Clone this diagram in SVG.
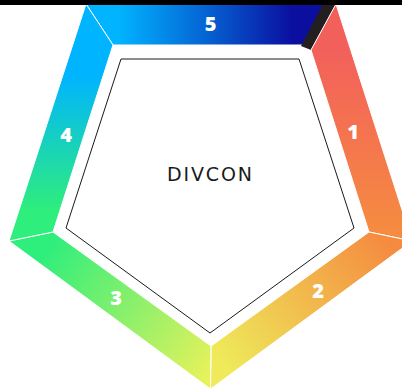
<svg xmlns="http://www.w3.org/2000/svg" width="402" height="389" viewBox="0 0 402 389">
<defs>
<linearGradient id="g5" gradientUnits="userSpaceOnUse" x1="118" y1="0" x2="292" y2="0">
<stop offset="0" stop-color="#00B4FF"/>
<stop offset="0.5" stop-color="#0564D4"/>
<stop offset="1" stop-color="#0A0FA0"/>
</linearGradient>
<linearGradient id="g1" gradientUnits="userSpaceOnUse" x1="0" y1="50" x2="0" y2="235">
<stop offset="0" stop-color="#F2605B"/>
<stop offset="1" stop-color="#F68C40"/>
</linearGradient>
<linearGradient id="g2" gradientUnits="userSpaceOnUse" x1="385" y1="235" x2="225" y2="365">
<stop offset="0" stop-color="#F58A40"/>
<stop offset="1" stop-color="#EEEA5A"/>
</linearGradient>
<linearGradient id="g3" gradientUnits="userSpaceOnUse" x1="215" y1="372" x2="45" y2="250">
<stop offset="0" stop-color="#EAF25A"/>
<stop offset="1" stop-color="#2EEE7C"/>
</linearGradient>
<linearGradient id="g4" gradientUnits="userSpaceOnUse" x1="0" y1="75" x2="0" y2="210">
<stop offset="0" stop-color="#00B4FF"/>
<stop offset="1" stop-color="#2EEE7C"/>
</linearGradient>
</defs>
<style>
.seg{stroke:#fff;stroke-width:1}
.num{font-family:"Open Sans","Liberation Sans",sans-serif;font-weight:800;font-size:20px;fill:#fff;text-anchor:middle}
.lbl{font-family:"DejaVu Sans","Liberation Sans",sans-serif;font-size:19px;fill:#1a1a1a;text-anchor:middle}
</style>
<rect width="402" height="389" fill="#fff"/>
<g id="seg5">
<polygon class="seg" points="86,4 335,4 308,45 113,45" fill="url(#g5)"/>
<polygon points="323,4 336,4 311,50 301,46" fill="#231F20"/>
<text class="num" x="210.5" y="31">5</text>
</g>
<g id="seg1">
<polygon class="seg" points="336,4 412,241 369,232 311,50" fill="url(#g1)"/>
<text class="num" x="353" y="139">1</text>
</g>
<g id="seg2">
<polygon class="seg" points="412,241 210.5,389 211,346 369,232" fill="url(#g2)"/>
<text class="num" x="318" y="298">2</text>
</g>
<g id="seg3">
<polygon class="seg" points="210.5,389 9,241 53,232 211,346" fill="url(#g3)"/>
<text class="num" x="116" y="305">3</text>
</g>
<g id="seg4">
<polygon class="seg" points="9,241 86,4 113,45 53,232" fill="url(#g4)"/>
<text class="num" x="66" y="142">4</text>
</g>
<g id="center">
<polygon points="121,59 299,59 354,228 210,333 66,228" fill="none" stroke="#1a1a1a" stroke-width="1"/>
<text class="lbl" x="209.5" y="181" textLength="85" lengthAdjust="spacing">DIVCON</text>
</g>
<rect x="0" y="0" width="402" height="5" fill="#000"/>
</svg>
